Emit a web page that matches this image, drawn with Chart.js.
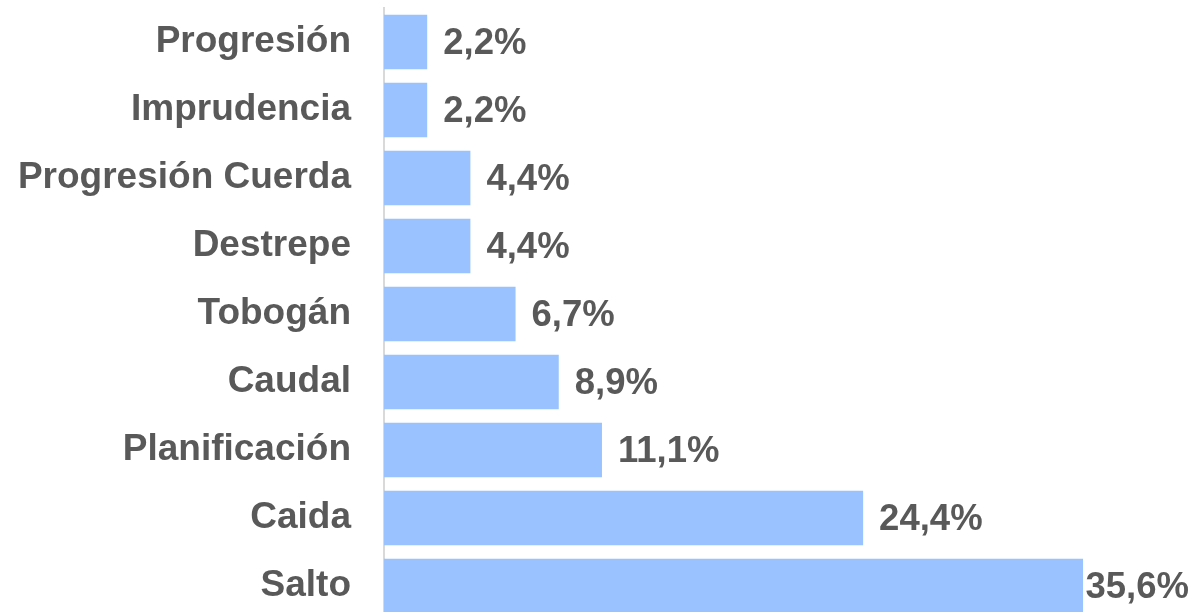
<!DOCTYPE html>
<html>
<head>
<meta charset="utf-8">
<script src="https://cdn.jsdelivr.net/npm/chart.js@4"></script>
<style>
  html, body { margin: 0; padding: 0; background: #fff; overflow: hidden; }
  #wrap { width: 1193px; height: 620px; }
</style>
</head>
<body>
<div id="wrap"><canvas id="causas_chart"></canvas></div>
<script>
// causas, de arriba a abajo
const categorias = ['Progresión', 'Imprudencia', 'Progresión Cuerda', 'Destrepe', 'Tobogán', 'Caudal', 'Planificación', 'Caida', 'Salto'];
const porcentajes = [2.2, 2.2, 4.4, 4.4, 6.7, 8.9, 11.1, 24.4, 35.6];

const textColor = '#595959';
const fontFamily = '"Liberation Sans", Arial, sans-serif';

// etiquetas de valor al final de cada barra
const valueLabels = {
  id: 'valueLabels',
  afterDatasetsDraw(chart) {
    const ctx = chart.ctx;
    const meta = chart.getDatasetMeta(0);
    ctx.save();
    ctx.font = 'bold 36.5px ' + fontFamily;
    ctx.fillStyle = textColor;
    ctx.textBaseline = 'middle';
    meta.data.forEach(function (bar, i) {
      const txt = porcentajes[i].toFixed(1).replace('.', ',') + '%';
      const w = ctx.measureText(txt).width;
      let x = bar.x + 16;
      if (x + w > chart.width - 4) x = chart.width - 4 - w;
      ctx.fillText(txt, x, bar.y + 2);
    });
    ctx.restore();
  }
};

let ctx = document.getElementById('causas_chart');
let config = {
  type: 'bar',
  data: {
    labels: categorias,
    datasets: [{
      data: porcentajes,
      backgroundColor: '#99c2ff',
      borderWidth: 0,
      categoryPercentage: 0.8,
      barPercentage: 1.0
    }]
  },
  options: {
    indexAxis: 'y',
    responsive: true,
    maintainAspectRatio: false,
    animation: false,
    layout: { padding: { top: 8, right: 0, bottom: 0, left: 0 } },
    plugins: { legend: { display: false }, tooltip: { enabled: false } },
    scales: {
      x: {
        display: false,
        min: 0,
        max: 41.2
      },
      y: {
        afterFit: function (scale) {
          scale.width = 384;
          scale.paddingTop = 0;
          scale.paddingBottom = 0;
        },
        grid: { display: false, drawTicks: false },
        border: { display: true, color: '#d9d9d9', width: 2 },
        ticks: {
          color: textColor,
          padding: 33,
          font: { family: fontFamily, size: 37, weight: 'bold' }
        }
      }
    }
  },
  plugins: [valueLabels]
};
let chart = new Chart(ctx, config);
</script>
</body>
</html>
